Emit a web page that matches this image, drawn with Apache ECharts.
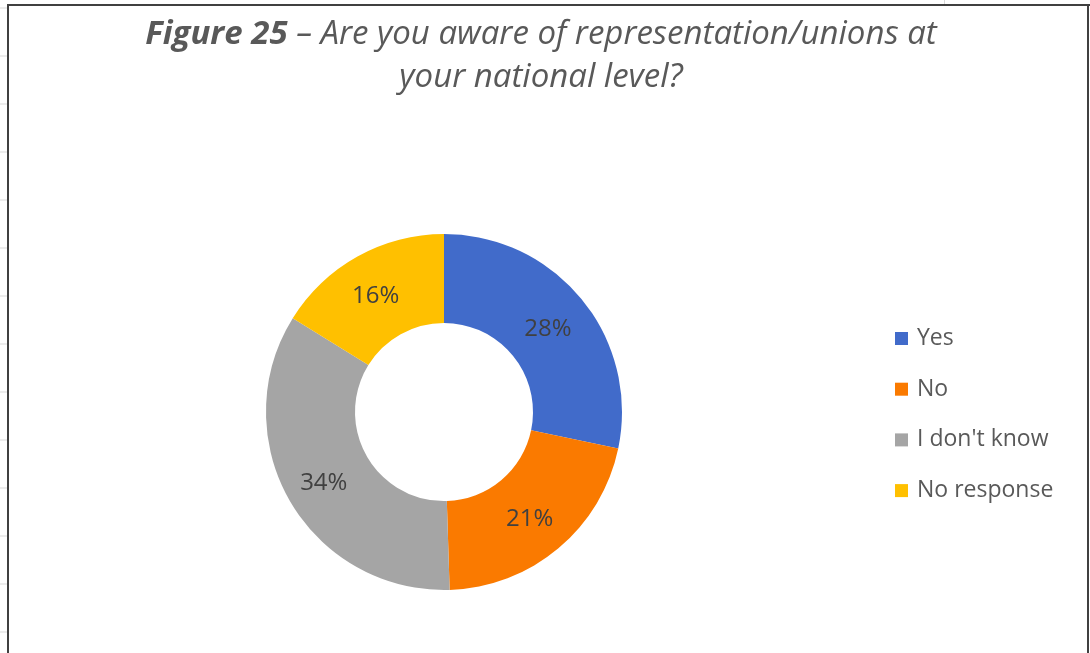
<!DOCTYPE html>
<html>
<head>
<meta charset="utf-8">
<script src="https://cdn.jsdelivr.net/npm/echarts@6/dist/echarts.min.js"></script>
<style>
  html, body { margin: 0; padding: 0; background: #ffffff; }
  #chart { width: 1090px; height: 653px; }
</style>
</head>
<body>
<div id="chart"></div>
<script>
// Survey answers and their shares (%)
const categories = ['Yes', 'No', "I don't know", 'No response'];
const shares = [28, 21, 34, 16];
const sliceColors = ['#416BCA', '#FA7A00', '#A5A5A5', '#FFC000'];

const titleLead = 'Figure 25';
const titleLine1 = ' \u2013 Are you aware of representation/unions at';
const titleLine2 = 'your national level?';

const FONT = '"Open Sans", "Noto Sans", sans-serif';

// Spreadsheet row markers along the left margin
const rowMarks = [];
for (let y = 8; y < 653; y += 48) {
  rowMarks.push({
    type: 'line',
    shape: { x1: 0, y1: y, x2: 7, y2: y },
    style: { stroke: '#d9d9d9', lineWidth: 1 },
    silent: true
  });
}

const chart = echarts.init(document.getElementById('chart'), null, { renderer: 'canvas' });

chart.setOption({
  backgroundColor: '#ffffff',
  animation: false,
  title: [
    {
      text: '{b|' + titleLead + '}{n|' + titleLine1 + '}',
      left: 536,
      top: 13,
      textAlign: 'center',
      textStyle: {
        rich: {
          b: { fontFamily: FONT, fontSize: 33, fontWeight: 'bold', fontStyle: 'italic', color: '#595959' },
          n: { fontFamily: FONT, fontSize: 33, fontWeight: 'normal', fontStyle: 'italic', color: '#595959' }
        }
      }
    },
    {
      text: titleLine2,
      left: 536,
      top: 56,
      textAlign: 'center',
      textStyle: { fontFamily: FONT, fontSize: 33, fontWeight: 'normal', fontStyle: 'italic', color: '#595959' }
    }
  ],
  legend: {
    orient: 'vertical',
    left: 890,
    top: 322,
    itemWidth: 13,
    itemHeight: 13,
    itemGap: 27.7,
    icon: 'rect',
    data: categories,
    textStyle: { fontFamily: FONT, fontSize: 23, color: '#595959', padding: [0, 0, 0, 4] }
  },
  graphic: [
    // chart frame
    { type: 'line', shape: { x1: 7, y1: 5, x2: 1090, y2: 5 }, style: { stroke: '#404040', lineWidth: 2 }, silent: true },
    { type: 'line', shape: { x1: 8, y1: 5, x2: 8, y2: 653 }, style: { stroke: '#404040', lineWidth: 2 }, silent: true },
    { type: 'line', shape: { x1: 1088, y1: 5, x2: 1088, y2: 653 }, style: { stroke: '#404040', lineWidth: 2 }, silent: true },
    { type: 'line', shape: { x1: 944.5, y1: 0, x2: 944.5, y2: 4 }, style: { stroke: '#d9d9d9', lineWidth: 1 }, silent: true }
  ].concat(rowMarks),
  series: [
    {
      type: 'pie',
      center: [444, 412],
      radius: [89, 178],
      startAngle: 90,
      clockwise: true,
      avoidLabelOverlap: false,
      itemStyle: { borderWidth: 0 },
      emphasis: { scale: false },
      label: {
        show: true,
        position: 'inside',
        offset: [-2, 3],
        formatter: p => p.value + '%',
        fontFamily: FONT,
        fontSize: 24,
        color: '#404040'
      },
      labelLine: { show: false },
      data: categories.map((name, i) => ({
        name: name,
        value: shares[i],
        itemStyle: { color: sliceColors[i] }
      }))
    }
  ]
});
</script>
</body>
</html>
